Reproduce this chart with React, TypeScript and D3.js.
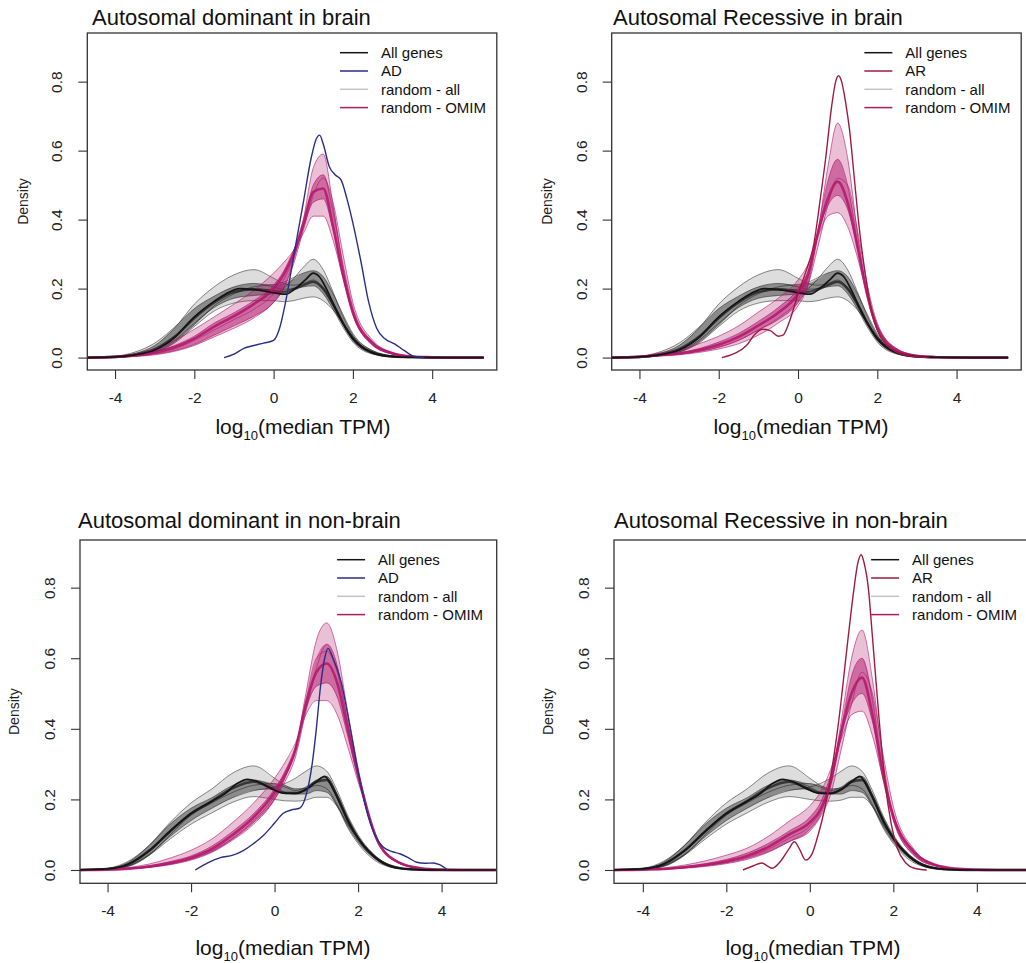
import React, { useRef, useEffect } from 'react';
import * as d3 from 'd3';

// shared x grid (log10 median TPM) for the random-sample density curves
const GRID = [-4.7, -4, -3.5, -3, -2.5, -2, -1.5, -1, -0.5, 0, 0.25, 0.5, 0.75, 1, 1.25, 1.5, 1.75, 2, 2.5, 3, 3.5, 4, 4.5, 5.3];

const X_TICKS = [-4, -2, 0, 2, 4];
const Y_TICKS = [0, 0.2, 0.4, 0.6, 0.8];

const TITLES = [
  'Autosomal dominant in brain',
  'Autosomal Recessive in brain',
  'Autosomal dominant in non-brain',
  'Autosomal Recessive in non-brain',
];
const TARGET_NAMES = ['AD', 'AR', 'AD', 'AR'];

// "All genes" densities
const allGenesBrain = [
  [-4.7, 0], [-4, 0.002], [-3.5, 0.008], [-3, 0.022], [-2.5, 0.058], [-2, 0.118], [-1.5, 0.163], [-1.2, 0.185],
  [-0.85, 0.2], [-0.5, 0.197], [-0.2, 0.192], [0.1, 0.186], [0.3, 0.184], [0.55, 0.2], [0.8, 0.225], [1.0, 0.245],
  [1.15, 0.235], [1.35, 0.195], [1.55, 0.145], [1.75, 0.1], [2, 0.055], [2.3, 0.025], [2.6, 0.01], [3, 0.003],
  [3.5, 0.001], [4.5, 0], [5.3, 0],
];
const allGenesNonBrain = [
  [-4.7, 0], [-4, 0.003], [-3.5, 0.017], [-3, 0.055], [-2.5, 0.11], [-2, 0.16], [-1.5, 0.195], [-1.2, 0.215],
  [-0.9, 0.245], [-0.65, 0.257], [-0.4, 0.25], [-0.1, 0.232], [0.2, 0.218], [0.5, 0.217], [0.8, 0.232], [1.0, 0.25],
  [1.2, 0.265], [1.4, 0.23], [1.6, 0.18], [1.8, 0.13], [2.0, 0.09], [2.3, 0.047], [2.7, 0.014], [3.2, 0.002],
  [4, 0], [5.3, 0],
];

// disease gene sets
const adBrain = [
  [-1.25, 0], [-1, 0.01], [-0.75, 0.027], [-0.5, 0.035], [-0.25, 0.042], [0, 0.05], [0.15, 0.085], [0.3, 0.16],
  [0.5, 0.29], [0.75, 0.45], [0.95, 0.58], [1.08, 0.635], [1.16, 0.645], [1.25, 0.62], [1.4, 0.555], [1.55, 0.53],
  [1.7, 0.515], [1.85, 0.46], [2, 0.39], [2.2, 0.28], [2.4, 0.16], [2.6, 0.085], [2.8, 0.055], [3.05, 0.04],
  [3.3, 0.02], [3.55, 0.003], [3.8, 0],
];
const arBrain = [
  [-1.92, 0], [-1.6, 0.012], [-1.3, 0.035], [-1.1, 0.066], [-0.9, 0.082], [-0.7, 0.078], [-0.5, 0.062], [-0.38, 0.065],
  [-0.2, 0.11], [0, 0.185], [0.2, 0.25], [0.4, 0.33], [0.55, 0.45], [0.7, 0.58], [0.85, 0.73], [0.95, 0.8],
  [1.02, 0.817], [1.1, 0.8], [1.2, 0.74], [1.3, 0.66], [1.42, 0.52], [1.55, 0.37], [1.7, 0.24], [1.85, 0.14],
  [2.0, 0.08], [2.25, 0.035], [2.5, 0.015], [2.9, 0.003], [3.3, 0],
];
const adNonBrain = [
  [-1.9, 0], [-1.6, 0.02], [-1.3, 0.035], [-1.0, 0.042], [-0.75, 0.055], [-0.5, 0.075], [-0.25, 0.1], [0, 0.133],
  [0.2, 0.16], [0.4, 0.17], [0.6, 0.175], [0.75, 0.21], [0.9, 0.3], [1.0, 0.4], [1.1, 0.52], [1.2, 0.6],
  [1.28, 0.628], [1.4, 0.6], [1.6, 0.53], [1.8, 0.41], [2, 0.28], [2.2, 0.17], [2.4, 0.1], [2.6, 0.065],
  [2.8, 0.053], [3, 0.046], [3.2, 0.035], [3.4, 0.022], [3.6, 0.019], [3.8, 0.02], [3.95, 0.015], [4.15, 0],
];
const arNonBrain = [
  [-1.6, 0], [-1.35, 0.012], [-1.15, 0.02], [-1.0, 0.01], [-0.9, 0.005], [-0.7, 0.025], [-0.5, 0.06], [-0.37, 0.08],
  [-0.25, 0.06], [-0.1, 0.028], [0.05, 0.045], [0.2, 0.1], [0.35, 0.17], [0.5, 0.265], [0.7, 0.43], [0.9, 0.64],
  [1.05, 0.79], [1.15, 0.87], [1.23, 0.893], [1.3, 0.87], [1.4, 0.8], [1.5, 0.66], [1.65, 0.44], [1.8, 0.25],
  [1.95, 0.13], [2.1, 0.06], [2.3, 0.02], [2.5, 0.005], [2.8, 0],
];

// random samples of all genes (values on GRID)
const randomAllBrain = [
  [0, 0.002, 0.008, 0.024, 0.06, 0.115, 0.16, 0.19, 0.198, 0.193, 0.19, 0.198, 0.21, 0.22, 0.2, 0.155, 0.1, 0.055, 0.014, 0.003, 0.001, 0, 0, 0],
  [0, 0.003, 0.012, 0.035, 0.085, 0.155, 0.205, 0.24, 0.255, 0.23, 0.215, 0.21, 0.215, 0.225, 0.2, 0.15, 0.095, 0.05, 0.012, 0.003, 0.001, 0, 0, 0],
  [0, 0.001, 0.006, 0.018, 0.05, 0.1, 0.145, 0.172, 0.18, 0.185, 0.2, 0.228, 0.262, 0.285, 0.255, 0.19, 0.12, 0.065, 0.015, 0.004, 0.001, 0, 0, 0],
  [0, 0.002, 0.006, 0.016, 0.042, 0.09, 0.135, 0.158, 0.165, 0.165, 0.162, 0.165, 0.172, 0.176, 0.165, 0.138, 0.1, 0.062, 0.02, 0.005, 0.001, 0, 0, 0],
  [0, 0.004, 0.016, 0.042, 0.088, 0.142, 0.178, 0.205, 0.215, 0.205, 0.198, 0.2, 0.205, 0.208, 0.185, 0.14, 0.088, 0.045, 0.01, 0.002, 0.001, 0, 0, 0],
  [0, 0.001, 0.005, 0.015, 0.045, 0.095, 0.15, 0.185, 0.205, 0.212, 0.218, 0.232, 0.245, 0.252, 0.235, 0.185, 0.125, 0.07, 0.02, 0.005, 0.002, 0.001, 0, 0],
];
const randomAllNonBrain = [
  [0, 0.003, 0.016, 0.055, 0.11, 0.16, 0.195, 0.232, 0.25, 0.228, 0.218, 0.218, 0.228, 0.25, 0.255, 0.208, 0.14, 0.09, 0.028, 0.005, 0.001, 0, 0, 0],
  [0, 0.004, 0.022, 0.07, 0.135, 0.19, 0.23, 0.275, 0.295, 0.26, 0.24, 0.23, 0.23, 0.24, 0.23, 0.185, 0.125, 0.08, 0.024, 0.005, 0.001, 0, 0, 0],
  [0, 0.002, 0.012, 0.045, 0.095, 0.14, 0.175, 0.205, 0.225, 0.235, 0.245, 0.26, 0.28, 0.295, 0.28, 0.225, 0.155, 0.1, 0.032, 0.007, 0.001, 0, 0, 0],
  [0, 0.002, 0.011, 0.042, 0.088, 0.13, 0.162, 0.192, 0.208, 0.2, 0.196, 0.195, 0.198, 0.206, 0.206, 0.18, 0.13, 0.09, 0.03, 0.006, 0.001, 0, 0, 0],
  [0, 0.005, 0.025, 0.07, 0.13, 0.175, 0.205, 0.24, 0.255, 0.235, 0.22, 0.215, 0.215, 0.225, 0.22, 0.18, 0.12, 0.075, 0.02, 0.004, 0.001, 0, 0, 0],
  [0, 0.002, 0.01, 0.042, 0.1, 0.155, 0.19, 0.22, 0.24, 0.245, 0.235, 0.225, 0.235, 0.255, 0.265, 0.215, 0.15, 0.095, 0.03, 0.006, 0.001, 0, 0, 0],
];

// random samples of OMIM genes (values on GRID)
const randomOmimADBrain = [
  [0, 0.002, 0.006, 0.015, 0.03, 0.055, 0.09, 0.12, 0.155, 0.2, 0.24, 0.3, 0.39, 0.48, 0.49, 0.38, 0.24, 0.13, 0.04, 0.012, 0.003, 0.001, 0, 0],
  [0, 0.001, 0.004, 0.01, 0.02, 0.038, 0.065, 0.092, 0.12, 0.16, 0.2, 0.28, 0.4, 0.55, 0.59, 0.44, 0.26, 0.13, 0.035, 0.01, 0.002, 0, 0, 0],
  [0, 0.003, 0.011, 0.025, 0.05, 0.082, 0.118, 0.155, 0.195, 0.245, 0.275, 0.31, 0.36, 0.41, 0.41, 0.34, 0.23, 0.13, 0.045, 0.014, 0.004, 0.001, 0, 0],
  [0, 0.001, 0.005, 0.012, 0.025, 0.05, 0.08, 0.11, 0.14, 0.185, 0.225, 0.29, 0.38, 0.5, 0.53, 0.42, 0.27, 0.145, 0.045, 0.012, 0.003, 0.001, 0, 0],
  [0, 0.002, 0.007, 0.018, 0.035, 0.062, 0.1, 0.13, 0.165, 0.21, 0.25, 0.31, 0.38, 0.45, 0.46, 0.37, 0.235, 0.125, 0.038, 0.01, 0.002, 0, 0, 0],
  [0, 0.001, 0.003, 0.008, 0.018, 0.035, 0.06, 0.085, 0.115, 0.16, 0.2, 0.27, 0.37, 0.47, 0.52, 0.45, 0.3, 0.16, 0.05, 0.015, 0.004, 0.001, 0, 0],
];
const randomOmimARBrain = [
  [0, 0.002, 0.008, 0.012, 0.022, 0.037, 0.06, 0.093, 0.13, 0.185, 0.24, 0.36, 0.46, 0.51, 0.45, 0.32, 0.18, 0.085, 0.02, 0.005, 0.001, 0, 0, 0],
  [0, 0.001, 0.004, 0.008, 0.015, 0.025, 0.04, 0.065, 0.1, 0.15, 0.21, 0.36, 0.55, 0.68, 0.58, 0.36, 0.18, 0.08, 0.018, 0.004, 0.001, 0, 0, 0],
  [0, 0.002, 0.006, 0.01, 0.018, 0.03, 0.05, 0.08, 0.115, 0.17, 0.23, 0.37, 0.51, 0.575, 0.5, 0.33, 0.175, 0.08, 0.018, 0.004, 0.001, 0, 0, 0],
  [0, 0.003, 0.013, 0.022, 0.04, 0.062, 0.092, 0.132, 0.172, 0.225, 0.27, 0.35, 0.41, 0.42, 0.38, 0.29, 0.18, 0.095, 0.025, 0.006, 0.001, 0, 0, 0],
  [0, 0.002, 0.007, 0.014, 0.026, 0.045, 0.07, 0.105, 0.145, 0.2, 0.25, 0.36, 0.44, 0.47, 0.43, 0.32, 0.19, 0.09, 0.022, 0.005, 0.001, 0, 0, 0],
  [0, 0.001, 0.005, 0.01, 0.018, 0.03, 0.05, 0.08, 0.11, 0.16, 0.21, 0.32, 0.44, 0.52, 0.5, 0.37, 0.21, 0.1, 0.025, 0.006, 0.001, 0, 0, 0],
];
const randomOmimADNonBrain = [
  [0, 0.001, 0.004, 0.01, 0.02, 0.035, 0.06, 0.1, 0.15, 0.22, 0.27, 0.34, 0.47, 0.56, 0.585, 0.53, 0.4, 0.27, 0.075, 0.02, 0.005, 0.001, 0, 0],
  [0, 0.001, 0.003, 0.007, 0.015, 0.028, 0.05, 0.085, 0.13, 0.2, 0.26, 0.34, 0.5, 0.65, 0.7, 0.62, 0.45, 0.29, 0.075, 0.018, 0.004, 0.001, 0, 0],
  [0, 0.002, 0.007, 0.017, 0.034, 0.056, 0.088, 0.135, 0.19, 0.26, 0.305, 0.36, 0.44, 0.48, 0.48, 0.44, 0.35, 0.25, 0.08, 0.022, 0.006, 0.001, 0, 0],
  [0, 0.001, 0.004, 0.009, 0.018, 0.032, 0.055, 0.09, 0.14, 0.21, 0.265, 0.34, 0.48, 0.6, 0.62, 0.56, 0.42, 0.28, 0.075, 0.02, 0.005, 0.001, 0, 0],
  [0, 0.002, 0.005, 0.012, 0.024, 0.04, 0.068, 0.11, 0.16, 0.23, 0.28, 0.35, 0.46, 0.52, 0.53, 0.49, 0.38, 0.26, 0.078, 0.021, 0.005, 0.001, 0, 0],
  [0, 0.001, 0.003, 0.008, 0.016, 0.03, 0.052, 0.088, 0.135, 0.2, 0.25, 0.32, 0.45, 0.57, 0.64, 0.58, 0.42, 0.27, 0.07, 0.018, 0.004, 0.001, 0, 0],
];
const randomOmimARNonBrain = [
  [0, 0.001, 0.003, 0.008, 0.015, 0.025, 0.04, 0.065, 0.1, 0.135, 0.17, 0.25, 0.39, 0.5, 0.545, 0.44, 0.27, 0.15, 0.05, 0.015, 0.004, 0.001, 0, 0],
  [0, 0.001, 0.002, 0.005, 0.01, 0.018, 0.03, 0.05, 0.08, 0.115, 0.155, 0.24, 0.42, 0.6, 0.68, 0.54, 0.31, 0.15, 0.04, 0.011, 0.003, 0, 0, 0],
  [0, 0.002, 0.006, 0.014, 0.026, 0.042, 0.062, 0.095, 0.138, 0.182, 0.22, 0.285, 0.37, 0.44, 0.45, 0.38, 0.26, 0.155, 0.055, 0.016, 0.004, 0.001, 0, 0],
  [0, 0.001, 0.003, 0.007, 0.013, 0.022, 0.036, 0.058, 0.09, 0.125, 0.165, 0.245, 0.4, 0.55, 0.6, 0.48, 0.28, 0.14, 0.042, 0.012, 0.003, 0, 0, 0],
  [0, 0.001, 0.004, 0.01, 0.018, 0.03, 0.048, 0.075, 0.11, 0.15, 0.19, 0.27, 0.39, 0.47, 0.5, 0.42, 0.28, 0.16, 0.052, 0.014, 0.003, 0, 0, 0],
  [0, 0.001, 0.002, 0.006, 0.012, 0.02, 0.033, 0.052, 0.08, 0.11, 0.15, 0.215, 0.34, 0.47, 0.56, 0.5, 0.33, 0.18, 0.058, 0.015, 0.004, 0.001, 0, 0],
];

const PANEL_DATA = [
  { allGenes: allGenesBrain, target: adBrain, randAll: randomAllBrain, randOmim: randomOmimADBrain },
  { allGenes: allGenesBrain, target: arBrain, randAll: randomAllBrain, randOmim: randomOmimARBrain },
  { allGenes: allGenesNonBrain, target: adNonBrain, randAll: randomAllNonBrain, randOmim: randomOmimADNonBrain },
  { allGenes: allGenesNonBrain, target: arNonBrain, randAll: randomAllNonBrain, randOmim: randomOmimARNonBrain },
];

// pixel layout of each plot box
const LAYOUT = [
  { left: 87.3, top: 33, width: 409.5, height: 337, xDom: [-4.7, 5.63], yDom: [-0.036, 0.941], titleX: 92, titleY: 25, labX: 303, labY: 434, densX: 23 },
  { left: 611.7, top: 33, width: 409.5, height: 337, xDom: [-4.7, 5.63], yDom: [-0.036, 0.941], titleX: 613, titleY: 25, labX: 801, labY: 434, densX: 547 },
  { left: 80, top: 540, width: 416.7, height: 343.3, xDom: [-4.66, 5.32], yDom: [-0.0377, 0.935], titleX: 78, titleY: 528, labX: 283, labY: 955, densX: 14 },
  { left: 614, top: 540, width: 416.7, height: 343.3, xDom: [-4.69, 5.29], yDom: [-0.0377, 0.935], titleX: 614, titleY: 528, labX: 813, labY: 955, densX: 548 },
];

const FONT = '"Liberation Sans", Arial, Helvetica, sans-serif';
const BLACK = '#141414';
const BLUE = '#2b2d88';
const RED = '#9e1b40';
const MAGENTA = '#b0176b';
const GRAY = '#1a1a1a';

function App() {
  const ref = useRef(null);

  useEffect(() => {
    const svg = d3.select(ref.current);
    svg.selectAll('*').remove();
    svg.append('rect').attr('width', 1026).attr('height', 963).attr('fill', '#fff');

    PANEL_DATA.forEach((pd, k) => {
      const lay = LAYOUT[k];
      const L = lay.left, T = lay.top, R = lay.left + lay.width, B = lay.top + lay.height;
      const x = d3.scaleLinear().domain(lay.xDom).range([L, R]);
      const y = d3.scaleLinear().domain(lay.yDom).range([B, T]);

      const clipId = 'clip' + k;
      svg.append('clipPath').attr('id', clipId)
        .append('rect').attr('x', L).attr('y', T).attr('width', lay.width).attr('height', lay.height);
      const plot = svg.append('g').attr('clip-path', `url(#${clipId})`);

      const gridLine = d3.line<number>()
        .x((_, i) => x(GRID[i]))
        .y(d => y(d))
        .curve(d3.curveMonotoneX);
      const ptLine = d3.line<number[]>()
        .x(d => x(d[0]))
        .y(d => y(d[1]))
        .curve(d3.curveMonotoneX);

      // a bundle of random-sample curves: outer band, inner band, thin lines, thick core
      const drawBundle = (curves, color, st) => {
        const col = GRID.map((_, i) => curves.map(c => c[i]).sort(d3.ascending));
        const bandOf = (lo, hi) => d3.area<number>()
          .x((_, i) => x(GRID[i]))
          .y0((_, i) => y(lo[i]))
          .y1((_, i) => y(hi[i]))
          .curve(d3.curveMonotoneX)(GRID);
        const q = p => col.map(v => d3.quantile(v, p));
        plot.append('path').attr('d', bandOf(q(0), q(1))).attr('fill', color).attr('opacity', st.outer);
        plot.append('path').attr('d', bandOf(q(0.2), q(0.8))).attr('fill', color).attr('opacity', st.inner);
        curves.slice(1).forEach(c => {
          plot.append('path').attr('d', gridLine(c)).attr('fill', 'none')
            .attr('stroke', color).attr('stroke-width', 1).attr('stroke-opacity', st.line);
        });
        plot.append('path').attr('d', gridLine(curves[0])).attr('fill', 'none')
          .attr('stroke', color).attr('stroke-width', 2.6).attr('stroke-opacity', st.core);
      };

      drawBundle(pd.randAll, GRAY, { outer: 0.15, inner: 0.42, line: 0.5, core: 0.75 });
      drawBundle(pd.randOmim, MAGENTA, { outer: 0.27, inner: 0.5, line: 0.6, core: 0.85 });

      plot.append('path').attr('d', ptLine(pd.allGenes)).attr('fill', 'none')
        .attr('stroke', BLACK).attr('stroke-width', 1.7);
      const tColor = TARGET_NAMES[k] === 'AD' ? BLUE : RED;
      plot.append('path').attr('d', ptLine(pd.target)).attr('fill', 'none')
        .attr('stroke', tColor).attr('stroke-width', 1.4);

      // axes
      const xAxis = svg.append('g').attr('transform', `translate(0,${B})`)
        .call(d3.axisBottom(x).tickValues(X_TICKS).tickSize(9).tickPadding(13).tickFormat(d => String(d)));
      xAxis.select('.domain').remove();
      xAxis.selectAll('line').attr('stroke', '#333').attr('stroke-width', 1.1);
      xAxis.selectAll('text').attr('font-family', FONT).attr('font-size', 15.5).attr('fill', '#222');

      const yAxis = svg.append('g').attr('transform', `translate(${L},0)`)
        .call(d3.axisLeft(y).tickValues(Y_TICKS).tickSize(9).tickFormat(d3.format('.1f')));
      yAxis.select('.domain').remove();
      yAxis.selectAll('line').attr('stroke', '#333').attr('stroke-width', 1.1);
      yAxis.selectAll('text')
        .attr('x', null).attr('dy', null)
        .attr('text-anchor', 'middle')
        .attr('transform', 'translate(-25,0) rotate(-90)')
        .attr('font-family', FONT).attr('font-size', 15.5).attr('fill', '#222');

      svg.append('rect').attr('x', L).attr('y', T).attr('width', lay.width).attr('height', lay.height)
        .attr('fill', 'none').attr('stroke', '#333').attr('stroke-width', 1.3);

      // titles
      svg.append('text').attr('x', lay.titleX).attr('y', lay.titleY)
        .attr('font-family', FONT).attr('font-size', 22).attr('fill', '#111').text(TITLES[k]);

      svg.append('text')
        .attr('transform', `translate(${lay.densX + 5},${(T + B) / 2}) rotate(-90)`)
        .attr('text-anchor', 'middle').attr('font-family', FONT).attr('font-size', 14).attr('fill', '#222')
        .text('Density');

      const xl = svg.append('text').attr('x', lay.labX).attr('y', lay.labY)
        .attr('text-anchor', 'middle').attr('font-family', FONT).attr('font-size', 21).attr('fill', '#111');
      xl.append('tspan').text('log');
      xl.append('tspan').attr('dy', 6).attr('font-size', 13).text('10');
      xl.append('tspan').attr('dy', -6).text('(median TPM)');

      // legend
      const legend = [
        { label: 'All genes', color: BLACK },
        { label: TARGET_NAMES[k], color: tColor },
        { label: 'random - all', color: '#c4c4c4' },
        { label: 'random - OMIM', color: '#a81e62' },
      ];
      const lx = L + 0.617 * lay.width;
      legend.forEach((e, i) => {
        const ly = T + 19.7 + i * 18.3;
        svg.append('line').attr('x1', lx).attr('x2', lx + 28).attr('y1', ly).attr('y2', ly)
          .attr('stroke', e.color).attr('stroke-width', 1.5);
        svg.append('text').attr('x', lx + 41).attr('y', ly + 5.3)
          .attr('font-family', FONT).attr('font-size', 15).attr('fill', '#111').text(e.label);
      });
    });
  }, []);

  return (
    <svg
      ref={ref}
      width={1026}
      height={963}
      style={{ position: 'absolute', left: 0, top: 0, display: 'block' }}
    />
  );
}

export default App;
